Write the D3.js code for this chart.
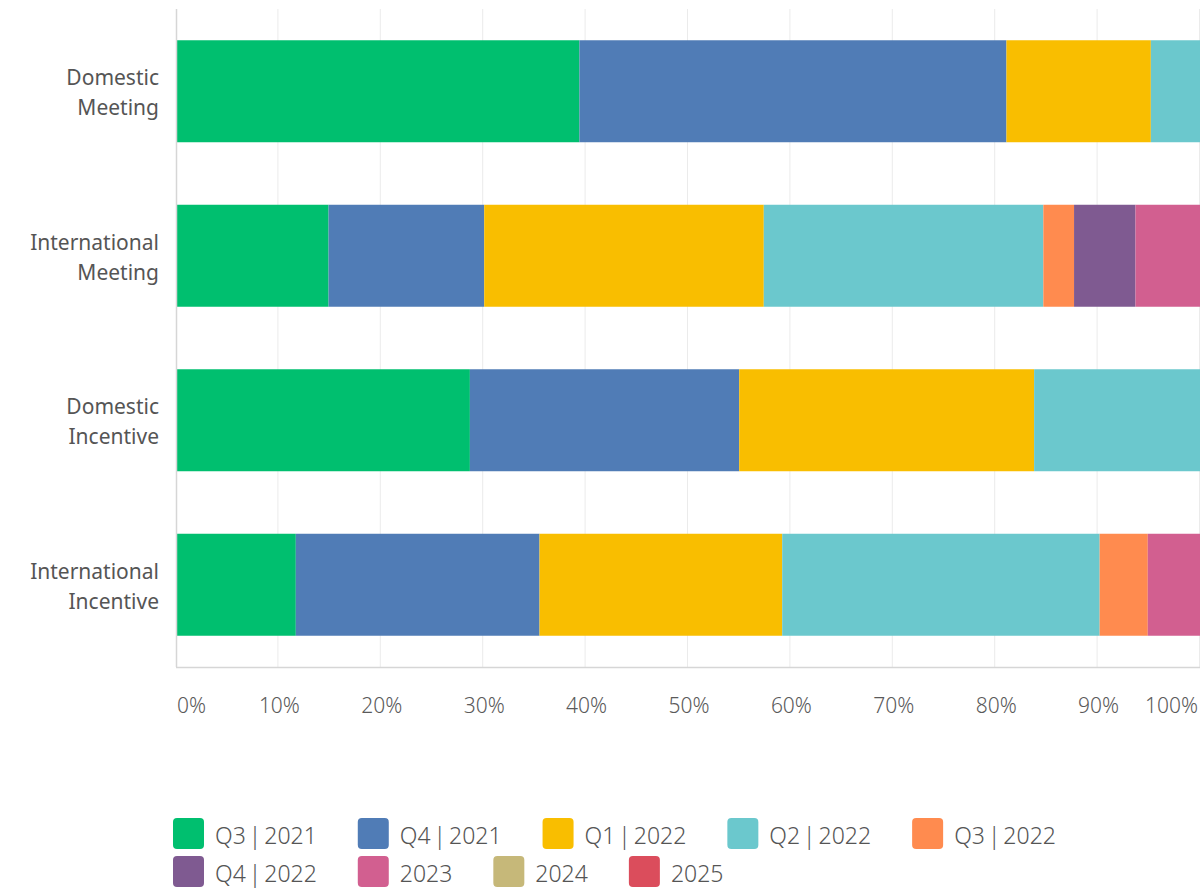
<!DOCTYPE html>
<html>
  <head>
    <meta charset="utf-8" />
    <script src="https://d3js.org/d3.v7.min.js"></script>
    <style>
        body {margin: 0; background: #fff;}
        svg text {font-family: "Noto Sans", sans-serif;}
    </style>
  </head>
  <body>
    <svg id="viz"></svg>
    <script>
        var width = 1200
        var height = 890

        // rows of the chart, top to bottom
        var categories = [
            ["Domestic", "Meeting"],
            ["International", "Meeting"],
            ["Domestic", "Incentive"],
            ["International", "Incentive"]
        ];

        var seriesNames = ["Q3 | 2021", "Q4 | 2021", "Q1 | 2022", "Q2 | 2022", "Q3 | 2022",
                           "Q4 | 2022", "2023", "2024", "2025"];
        var seriesColors = ["#00BF6F", "#507CB6", "#F9BE00", "#6BC8CD", "#FF8B4F",
                            "#7F5A91", "#D25F90", "#C6B879", "#DB4D5C"];

        // percent values, one per category (same order as categories)
        var q3_2021 = [39.4, 14.9, 28.7, 11.7];
        var q4_2021 = [41.7, 15.2, 26.3, 23.8];
        var q1_2022 = [14.1, 27.3, 28.8, 23.7];
        var q2_2022 = [4.8, 27.3, 16.2, 31.0];
        var q3_2022 = [0, 3.0, 0, 4.7];
        var q4_2022 = [0, 6.0, 0, 0];
        var y2023 = [0, 6.3, 0, 5.1];
        var y2024 = [0, 0, 0, 0];
        var y2025 = [0, 0, 0, 0];

        var tickValues = [0, 10, 20, 30, 40, 50, 60, 70, 80, 90, 100];

        var seriesValues = [q3_2021, q4_2021, q1_2022, q2_2022, q3_2022, q4_2022, y2023, y2024, y2025];

        // table for d3.stack
        var table = categories.map(function(c, i) {
            var row = {key: i};
            seriesNames.forEach(function(s, j) { row[s] = seriesValues[j][i]; });
            return row;
        });

        var svg = d3.select("#viz")
            .attr("width", width)
            .attr("height", height);

        // plot edges (note: "top" is taken by window.top)
        var plotLeft = 176, plotRight = 1200, plotTop = 9, plotBottom = 667;

        var x = d3.scaleLinear().domain([0, 100]).range([plotLeft, plotRight]);
        var y = d3.scaleBand()
            .domain(d3.range(categories.length))
            .range([plotTop, plotBottom])
            .paddingInner(0.38)
            .paddingOuter(0.19);

        // gridlines
        svg.append("g").selectAll("line")
            .data(tickValues.slice(1))
            .enter().append("line")
            .attr("x1", function(d) { return x(d) - 0.5; })
            .attr("x2", function(d) { return x(d) - 0.5; })
            .attr("y1", plotTop)
            .attr("y2", plotBottom)
            .attr("stroke", "#ebebeb")
            .attr("stroke-width", 1);

        var stack = d3.stack().keys(seriesNames);
        var layers = stack(table);

        svg.append("g").selectAll("g")
            .data(layers)
            .enter().append("g")
            .attr("fill", function(d, i) { return seriesColors[i]; })
            .selectAll("rect")
            .data(function(d) { return d; })
            .enter().append("rect")
            .attr("x", function(d) { return x(d[0]); })
            .attr("width", function(d) { return x(d[1]) - x(d[0]); })
            .attr("y", function(d) { return y(d.data.key); })
            .attr("height", y.bandwidth());

        // axis lines
        svg.append("line")
            .attr("x1", plotLeft + 0.5).attr("x2", plotLeft + 0.5)
            .attr("y1", plotTop).attr("y2", plotBottom)
            .attr("stroke", "#d6d6d6").attr("stroke-width", 1.5);
        svg.append("line")
            .attr("x1", plotLeft).attr("x2", plotRight)
            .attr("y1", plotBottom + 0.5).attr("y2", plotBottom + 0.5)
            .attr("stroke", "#d6d6d6").attr("stroke-width", 1.5);

        // x tick labels
        svg.append("g").selectAll("text")
            .data(tickValues)
            .enter().append("text")
            .attr("x", function(d) { return d === 0 ? x(d) + 1 : d === 100 ? x(d) - 2 : x(d) + 1; })
            .attr("y", 713)
            .attr("text-anchor", function(d) { return d === 0 ? "start" : d === 100 ? "end" : "middle"; })
            .attr("font-size", 21)
            .attr("font-weight", 300)
            .attr("fill", "#5a5a5a")
            .text(function(d) { return d + "%"; });

        // category labels
        var catLabels = svg.append("g").selectAll("text")
            .data(categories)
            .enter().append("text")
            .attr("text-anchor", "end")
            .attr("font-size", 21)
            .attr("fill", "#555");
        catLabels.each(function(d, i) {
            var cy = y(i) + y.bandwidth() / 2;
            d3.select(this).selectAll("tspan")
                .data(d)
                .enter().append("tspan")
                .attr("x", 159)
                .attr("y", function(t, k) { return cy - 6 + k * 30; })
                .text(function(t) { return t; });
        });

        // legend, flowed in rows
        var legend = svg.append("g");
        var rows = [seriesNames.slice(0, 5), seriesNames.slice(5)];
        rows.forEach(function(names, r) {
            var lx = 173;
            var ly = 818 + r * 38;
            names.forEach(function(name) {
                var idx = seriesNames.indexOf(name);
                legend.append("rect")
                    .attr("x", lx).attr("y", ly)
                    .attr("width", 31).attr("height", 31)
                    .attr("rx", 4)
                    .attr("fill", seriesColors[idx]);
                var t = legend.append("text")
                    .attr("x", lx + 42)
                    .attr("y", ly + 26)
                    .attr("font-size", 23)
                    .attr("font-weight", 300)
                    .attr("word-spacing", -3)
                    .attr("fill", "#555")
                    .text(name);
                lx += 42 + t.node().getComputedTextLength() + 41;
            });
        });
    </script>
  </body>
</html>
